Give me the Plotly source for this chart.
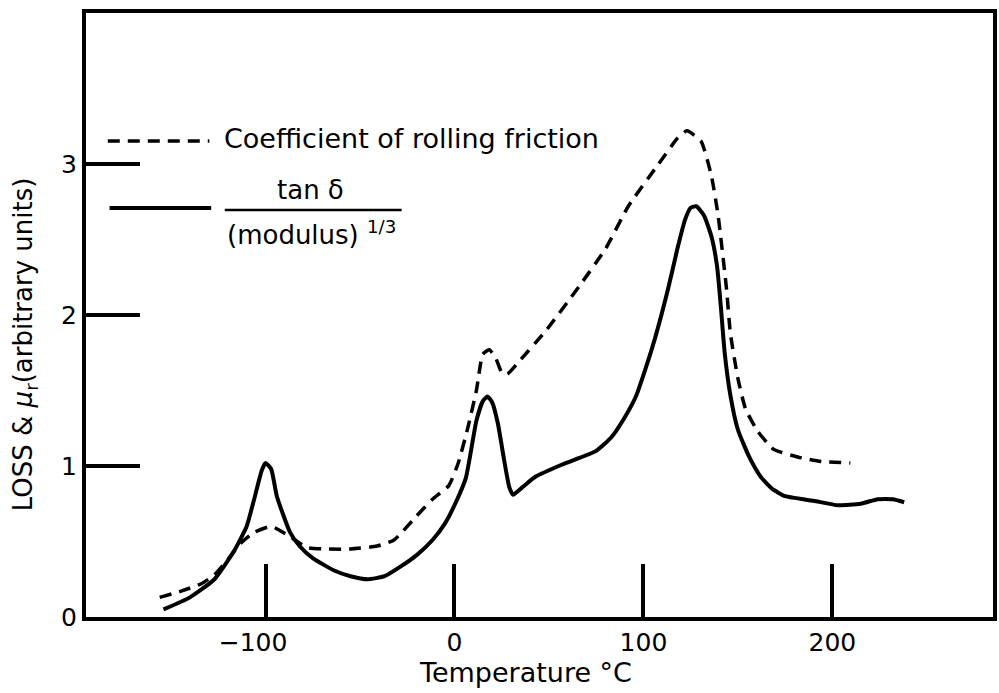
import plotly.graph_objects as go

# Temperature (°C) and values
tan_x = [-154, -140, -127, -117, -110, -106, -102, -100, -97, -94, -87, -82, -75, -64, -55, -46,
         -37, -29, -20, -11.6, -5, 0, 6, 11.6, 15, 17.5, 20, 23, 26, 29, 31, 36, 43, 57, 75, 83,
         90, 96, 101, 106, 113, 118, 122, 125, 128, 132, 136, 139, 141, 143, 146, 150, 156, 162,
         168, 175, 190, 203, 215, 224, 232, 238]
tan_y = [0.05, 0.13, 0.25, 0.43, 0.60, 0.78, 0.97, 1.02, 0.98, 0.80, 0.56, 0.47, 0.39, 0.31, 0.27, 0.25,
         0.27, 0.33, 0.41, 0.51, 0.62, 0.74, 0.92, 1.30, 1.43, 1.46, 1.42, 1.28, 1.06, 0.86, 0.81, 0.86, 0.93, 1.01, 1.10, 1.19,
         1.32, 1.46, 1.64, 1.84, 2.17, 2.44, 2.63, 2.71, 2.72, 2.66, 2.52, 2.32, 2.05, 1.75, 1.47, 1.24, 1.06, 0.93,
         0.85, 0.80, 0.77, 0.74, 0.75, 0.78, 0.78, 0.76]

fric_x = [-156, -145, -134, -127, -120, -113, -106, -97, -88, -78, -67, -55, -41, -32, -20, -11.6, -3,
          2, 7, 11.6, 15, 18.4, 22, 25, 28, 34, 48, 66, 80, 92, 108, 118, 123, 130.5, 136, 139.5,
          144, 146, 150, 154, 160.5, 169, 181.6, 194, 209.5]
fric_y = [0.13, 0.17, 0.22, 0.28, 0.38, 0.49, 0.56, 0.60, 0.54, 0.46, 0.45, 0.45, 0.47, 0.51, 0.67, 0.78, 0.87,
          1.02, 1.25, 1.50, 1.74, 1.77, 1.71, 1.62, 1.61, 1.69, 1.89, 2.19, 2.44, 2.72, 3.00, 3.17, 3.22, 3.15, 2.92, 2.66,
          2.17, 1.88, 1.58, 1.38, 1.23, 1.11, 1.06, 1.03, 1.02]

x_ticks = [-100, 0, 100, 200]
x_tick_text = ["\u2212100\u2003", "0", "100", "200"]
y_ticks = [0, 1, 2, 3]

FONT = "DejaVu Sans"

fig = go.Figure()
fig.add_trace(go.Scatter(x=fric_x, y=fric_y, mode="lines",
                         line=dict(color="black", width=3.5, dash="12px,8px", shape="spline", smoothing=0.5),
                         showlegend=False))
fig.add_trace(go.Scatter(x=tan_x, y=tan_y, mode="lines",
                         line=dict(color="black", width=4, shape="spline", smoothing=0.5),
                         showlegend=False))

# Legend drawn by hand
fig.add_shape(type="line", xref="paper", yref="paper", x0=0.024, x1=0.136, y0=0.788, y1=0.788,
              line=dict(color="black", width=3.5, dash="12px,8px"))
fig.add_shape(type="line", xref="paper", yref="paper", x0=0.026, x1=0.138, y0=0.677, y1=0.677,
              line=dict(color="black", width=4))
fig.add_shape(type="line", xref="paper", yref="paper", x0=0.153, x1=0.348, y0=0.674, y1=0.674,
              line=dict(color="black", width=2.5))
fig.add_annotation(xref="paper", yref="paper", x=0.150, y=0.793, xanchor="left", yanchor="middle",
                   text="Coefficient of rolling friction", showarrow=False,
                   font=dict(family=FONT, size=27, color="black"))
fig.add_annotation(xref="paper", yref="paper", x=0.248, y=0.707, xanchor="center", yanchor="middle",
                   text="tan δ", showarrow=False, font=dict(family=FONT, size=26, color="black"))
fig.add_annotation(xref="paper", yref="paper", x=0.153, y=0.636, xanchor="left", yanchor="middle",
                   text="(modulus) <sup>1/3</sup>", showarrow=False, font=dict(family=FONT, size=26, color="black"))

# Axis titles
fig.add_annotation(xref="paper", yref="paper", x=0.485, y=-0.092, xanchor="center", yanchor="middle",
                   text="Temperature °C", showarrow=False, font=dict(family=FONT, size=27, color="black"))
fig.add_annotation(xref="paper", yref="paper", x=-0.067, y=0.452, xanchor="center", yanchor="middle",
                   textangle=-90, text="LOSS & <i>μ</i><sub>r</sub>(arbitrary units)", showarrow=False,
                   font=dict(family=FONT, size=26, color="black"))

fig.update_xaxes(range=[-195, 285], tickvals=x_ticks, ticktext=x_tick_text, ticks="inside", ticklen=53, tickwidth=4,
                 tickcolor="black", showline=True, linecolor="black", linewidth=4, mirror=True,
                 showgrid=False, zeroline=False, tickfont=dict(family=FONT, size=25, color="black"))
fig.update_yaxes(range=[0, 4.0], tickvals=y_ticks, ticks="inside", ticklen=54, tickwidth=4,
                 tickcolor="black", showline=True, linecolor="black", linewidth=4, mirror=True,
                 showgrid=False, zeroline=False, tickfont=dict(family=FONT, size=25, color="black"))

fig.update_layout(width=999, height=693, margin=dict(l=86, r=2, t=13, b=76),
                  paper_bgcolor="white", plot_bgcolor="white")

fig.write_html("out.html")
